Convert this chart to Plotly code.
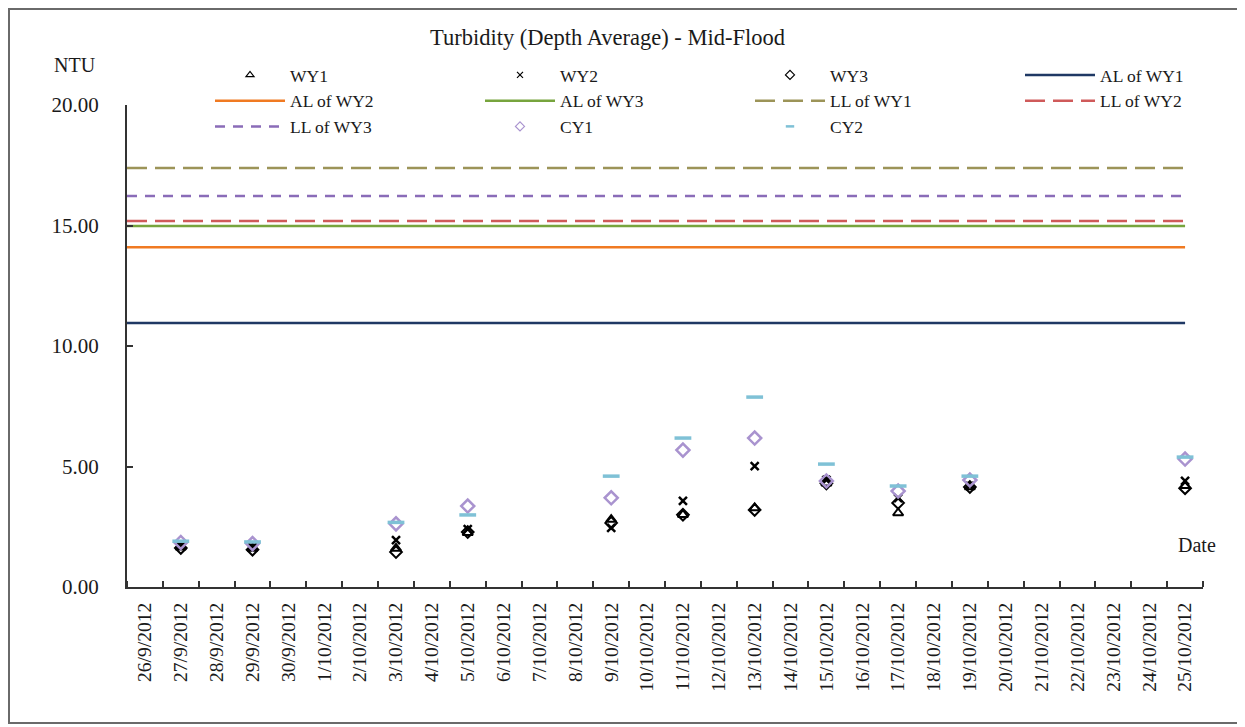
import plotly.graph_objects as go

# ---------------- data ----------------
dates = ["26/9/2012", "27/9/2012", "28/9/2012", "29/9/2012", "30/9/2012",
         "1/10/2012", "2/10/2012", "3/10/2012", "4/10/2012", "5/10/2012",
         "6/10/2012", "7/10/2012", "8/10/2012", "9/10/2012", "10/10/2012",
         "11/10/2012", "12/10/2012", "13/10/2012", "14/10/2012", "15/10/2012",
         "16/10/2012", "17/10/2012", "18/10/2012", "19/10/2012", "20/10/2012",
         "21/10/2012", "22/10/2012", "23/10/2012", "24/10/2012", "25/10/2012"]

sample_dates = ["27/9/2012", "29/9/2012", "3/10/2012", "5/10/2012", "9/10/2012",
                "11/10/2012", "13/10/2012", "15/10/2012", "17/10/2012",
                "19/10/2012", "25/10/2012"]

wy1 = [1.65, 1.6, 1.6, 2.25, 2.8, 3.0, 3.28, 4.3, 3.07, 4.15, 4.2]
wy2 = [1.7, 1.65, 1.95, 2.4, 2.45, 3.57, 5.02, 4.45, 3.69, 4.2, 4.4]
wy3 = [1.62, 1.55, 1.45, 2.28, 2.66, 3.0, 3.2, 4.3, 3.49, 4.15, 4.1]
cy1 = [1.85, 1.8, 2.62, 3.36, 3.7, 5.68, 6.18, 4.4, 3.98, 4.44, 5.31]
cy2 = [1.9, 1.87, 2.68, 2.99, 4.6, 6.18, 7.88, 5.1, 4.19, 4.6, 5.39]

limit_names = ["AL of WY1", "AL of WY2", "AL of WY3", "LL of WY1", "LL of WY2", "LL of WY3"]
limit_values = [10.95, 14.1, 14.98, 17.39, 15.19, 16.22]

y_ticks = [0, 5, 10, 15, 20]

# ---------------- styles ----------------
FONT = "Liberation Serif"
TXT = "#1a1a1a"
x_range = [-0.5, len(dates) - 0.5]
pos = {d: i for i, d in enumerate(dates)}
sx = [pos[d] for d in sample_dates]

limit_styles = [
    dict(color="#1f3864", dash="solid"),
    dict(color="#f07a22", dash="solid"),
    dict(color="#77a43d", dash="solid"),
    dict(color="#9c9458", dash="20px,8px"),
    dict(color="#cf5a5a", dash="20px,8px"),
    dict(color="#8a6cb8", dash="10px,8px"),
]

CY1_COL = "#a993cf"
CY2_COL = "#7fc1d6"

fig = go.Figure()

# (name, values, chart marker, small legend marker)
point_series = [
    ("WY1", wy1,
     dict(symbol="triangle-up-open", size=9, color="black", line=dict(width=2, color="black")),
     dict(symbol="triangle-up-open", size=7, color="black", line=dict(width=1.2, color="black"))),
    ("WY2", wy2,
     dict(symbol="x-thin-open", size=8, color="black", line=dict(width=2.5, color="black")),
     dict(symbol="x-thin-open", size=6, color="black", line=dict(width=1.2, color="black"))),
    ("WY3", wy3,
     dict(symbol="diamond-open", size=9, color="black", line=dict(width=2, color="black")),
     dict(symbol="diamond-open", size=7, color="black", line=dict(width=1.2, color="black"))),
]
cy_series = [
    ("CY1", cy1,
     dict(symbol="diamond-open", size=10, color=CY1_COL, line=dict(width=2.5, color=CY1_COL)),
     dict(symbol="diamond-open", size=7, color=CY1_COL, line=dict(width=1.2, color=CY1_COL))),
    ("CY2", cy2,
     dict(symbol="line-ew-open", size=12, color=CY2_COL, line=dict(width=3.5, color=CY2_COL)),
     dict(symbol="line-ew-open", size=6, color=CY2_COL, line=dict(width=2.5, color=CY2_COL))),
]

# data markers (legend shown via small proxy entries below)
for name, vals, mk, lmk in point_series + cy_series:
    fig.add_trace(go.Scatter(x=sx, y=vals, mode="markers", name=name, marker=mk,
                             showlegend=False))

# legend entries, in the reference order
for name, vals, mk, lmk in point_series:
    fig.add_trace(go.Scatter(x=[None], y=[None], mode="markers", name=name, marker=lmk,
                             hoverinfo="skip"))

line_x = [x_range[0], len(dates) - 1]
for name, val, st in zip(limit_names, limit_values, limit_styles):
    fig.add_trace(go.Scatter(x=line_x, y=[val, val], mode="lines", name=name,
                             line=dict(color=st["color"], dash=st["dash"], width=2.5)))

for name, vals, mk, lmk in cy_series:
    fig.add_trace(go.Scatter(x=[None], y=[None], mode="markers", name=name, marker=lmk,
                             hoverinfo="skip"))

# page has an 8px body margin: build the figure 8px smaller and offset targets
OFF = 8
W, H = 1245 - OFF, 727 - OFF
L, T = 127 - OFF, 105 - OFF
R = W - (1203 - OFF)
B = H - (587 - OFF)
pw = W - L - R
ph = H - T - B

def px_x(p):
    return (p - OFF - L) / pw

def px_y(p):
    return (H - B - (p - OFF)) / ph

fig.update_layout(
    width=W, height=H,
    margin=dict(l=L, r=R, t=T, b=B, autoexpand=False),
    paper_bgcolor="white", plot_bgcolor="white",
    font=dict(family=FONT, size=17, color=TXT),
    showlegend=True,
    legend=dict(orientation="h", x=px_x(210), y=px_y(57), xanchor="left", yanchor="top",
                entrywidth=185, entrywidthmode="pixels", itemwidth=70,
                font=dict(family=FONT, size=17.5, color=TXT),
                bgcolor="rgba(0,0,0,0)", tracegroupgap=0),
    xaxis=dict(range=x_range, tickmode="array", tickvals=list(range(len(dates))), ticktext=dates,
               tickangle=-90, ticks="", showgrid=False, zeroline=False,
               showline=True, linecolor="#333333", linewidth=2,
               tickfont=dict(family=FONT, size=19.5, color=TXT), ticklabelstandoff=6,
               minor=dict(tick0=-0.5, dtick=1, ticks="inside", ticklen=6, tickwidth=1.5,
                          tickcolor="#333333", showgrid=False)),
    yaxis=dict(range=[0, 20], tickmode="array", tickvals=y_ticks, tickformat=".2f",
               ticks="inside", ticklen=6, tickwidth=1.5, tickcolor="#333333",
               showgrid=False, zeroline=False, showline=True, linecolor="#333333", linewidth=2,
               tickfont=dict(family=FONT, size=21, color=TXT), ticklabelstandoff=22),
    shapes=[dict(type="rect", xref="paper", yref="paper",
                 x0=px_x(9), x1=px_x(1243), y0=px_y(723), y1=px_y(9),
                 line=dict(color="#6a6a6a", width=2), fillcolor="rgba(0,0,0,0)", layer="below")],
    annotations=[
        dict(text="Turbidity (Depth Average) - Mid-Flood", xref="paper", yref="paper",
             x=px_x(607), y=px_y(37), xanchor="center", yanchor="middle", showarrow=False,
             font=dict(family=FONT, size=22.5, color=TXT)),
        dict(text="NTU", xref="paper", yref="paper", x=px_x(75), y=px_y(65),
             xanchor="center", yanchor="middle", showarrow=False,
             font=dict(family=FONT, size=20, color=TXT)),
        dict(text="Date", xref="paper", yref="paper", x=px_x(1197), y=px_y(545),
             xanchor="center", yanchor="middle", showarrow=False,
             font=dict(family=FONT, size=20, color=TXT)),
    ],
)

fig.write_html("out.html")
